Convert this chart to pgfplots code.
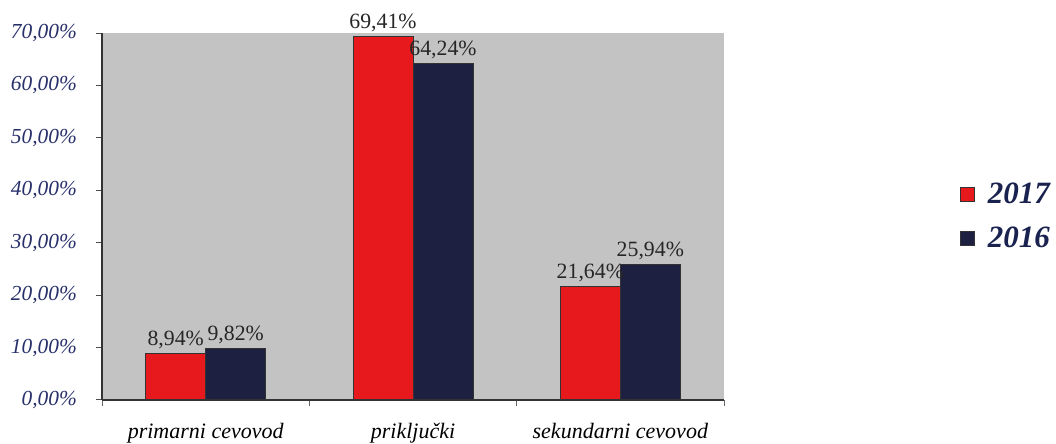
\documentclass[border=0pt]{standalone}
\usepackage{pgfplots}
\pgfplotsset{compat=1.18}
\usepackage{fontspec}
\setmainfont{Liberation Serif}

\definecolor{barred}{HTML}{E8191C}
\definecolor{barnavy}{HTML}{1E2042}
\definecolor{plotgray}{HTML}{C3C3C3}
\definecolor{ticknavy}{HTML}{28306A}
\definecolor{legnavy}{HTML}{1A2350}

\begin{document}
\begin{tikzpicture}
% 1 px of the layout = 0.5pt
\useasboundingbox (0,0) rectangle (528pt,222pt);
\begin{axis}[
  at={(51pt,22pt)}, anchor=south west,
  scale only axis,
  width=311pt, height=183.5pt,
  ybar=0pt, bar width=30pt,
  xmin=-0.5, xmax=2.5,
  ymin=0, ymax=70,
  xtick={0,1,2},
  xticklabels={primarni cevovod, priključki, sekundarni cevovod},
  minor xtick={-0.5,0.5,1.5,2.5},
  ytick={0,10,...,70},
  axis x line*=bottom, axis y line*=left,
  axis line style={black!80, line width=0.6pt},
  tick align=outside,
  major x tick style={draw=none},
  minor x tick style={black!60, line width=0.4pt},
  minor tick length=3pt,
  major y tick style={black!70, line width=0.5pt},
  major tick length=3pt,
  axis background/.style={fill=plotgray},
  /pgf/number format/assume math mode=true,
  yticklabel={\pgfmathprintnumber[fixed,fixed zerofill,precision=2,use comma]{\tick}\%},
  yticklabel style={font=\fontsize{10.7}{12}\selectfont\itshape, color=ticknavy, xshift=-6pt},
  xticklabel style={font=\fontsize{11}{13}\selectfont\itshape, yshift=-5pt},
  nodes near coords={\pgfmathprintnumber[fixed,fixed zerofill,precision=2,use comma]{\pgfplotspointmeta}\%},
  every node near coord/.append style={font=\fontsize{10.9}{12}\selectfont, color=black!85, inner sep=1pt, yshift=1pt},
  legend style={at={(1.378,0.5)}, anchor=west, draw=none, fill=none,
    font=\fontsize{15.5}{18}\selectfont\bfseries\itshape, text=legnavy,
    row sep=6pt, inner sep=0pt},
  legend cell align=left,
  legend image code/.code={%
    \draw[#1, draw=black!80, line width=0.4pt] (0pt,-3.5pt) rectangle (7pt,3.5pt);
    \path[draw=none, fill=none] (0pt,0pt) rectangle (12pt,0pt);},
]
\addplot[fill=barred, draw=black!80, line width=0.5pt] coordinates {(0,8.94) (1,69.41) (2,21.64)};
\addplot[fill=barnavy, draw=black!80, line width=0.5pt] coordinates {(0,9.82) (1,64.24) (2,25.94)};
\legend{2017,2016}
\end{axis}
\end{tikzpicture}
\end{document}
